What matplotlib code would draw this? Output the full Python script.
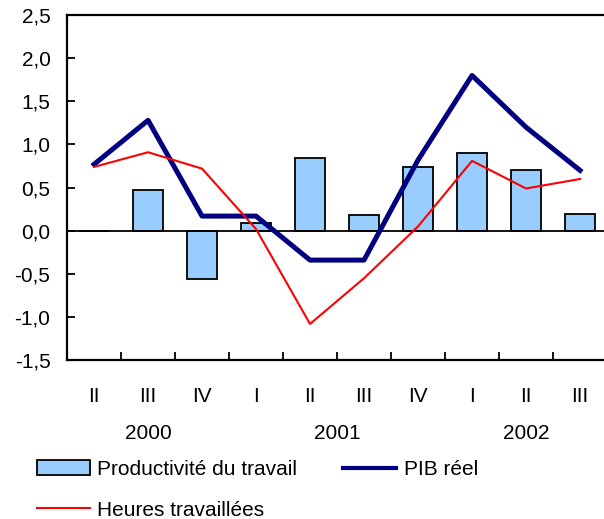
import numpy as np
import matplotlib.pyplot as plt
from matplotlib.patches import Patch
from matplotlib.lines import Line2D

plt.rcParams['font.family'] = ['Liberation Sans', 'DejaVu Sans']
plt.rcParams['font.size'] = 15

# Trimestres 2000 T2 - 2002 T3
quarters = ['II', 'III', 'IV', 'I', 'II', 'III', 'IV', 'I', 'II', 'III']
years = ['2000', '2001', '2002']
year_pos = [1, 4.5, 8]

productivite = [0.0, 0.47, -0.56, 0.09, 0.84, 0.18, 0.74, 0.90, 0.70, 0.20]
pib = [0.77, 1.28, 0.17, 0.17, -0.34, -0.34, 0.82, 1.80, 1.20, 0.70]
heures = [0.74, 0.91, 0.72, 0.02, -1.08, -0.55, 0.05, 0.81, 0.49, 0.60]

fig = plt.figure(figsize=(6.04, 5.19), dpi=100)
ax = fig.add_axes([0.111, 0.306, 0.894, 0.665])

x = np.arange(len(quarters))
ax.bar(x, productivite, width=0.55, color='#99CCFF', edgecolor='black', linewidth=1.3, zorder=2)
ax.axhline(0, color='black', linewidth=1.3, zorder=3)
ax.plot(x, pib, color='#000080', linewidth=3.6, zorder=4)
ax.plot(x, heures, color='#FF0000', linewidth=1.5, zorder=5)

ax.set_xlim(-0.5, len(quarters) - 0.5)
ax.set_ylim(-1.5, 2.5)
ax.set_yticks(np.arange(-1.5, 2.51, 0.5))
ax.set_yticklabels([f'{v:.1f}'.replace('.', ',') for v in np.arange(-1.5, 2.51, 0.5)])

ax.set_xticks(x)
ax.set_xticklabels(quarters)
ax.set_xticks(np.arange(0.5, len(quarters) - 0.5, 1), minor=True)
ax.tick_params(axis='x', which='major', length=0, pad=19)
ax.tick_params(axis='x', which='minor', direction='in', length=6, width=1.3)
ax.tick_params(axis='y', direction='in', length=6, width=1.3, pad=12)

for s in ax.spines.values():
    s.set_linewidth(1.6)

for yr, p in zip(years, year_pos):
    ax.text(p, -0.212, yr, transform=ax.get_xaxis_transform(), ha='center', va='center')

handles = [
    Patch(facecolor='#99CCFF', edgecolor='black', linewidth=1.3),
    Line2D([], [], color='#FF0000', linewidth=1.5),
    Line2D([], [], color='#000080', linewidth=3.0),
]
labels = ['Productivité du travail', 'Heures travaillées', 'PIB réel']
fig.legend(handles, labels, loc='upper left', bbox_to_anchor=(0.061, 0.114), ncol=2,
           frameon=False, borderpad=0, handlelength=2.55, handletextpad=0.35,
           columnspacing=2.2, labelspacing=1.05, borderaxespad=0)

fig.savefig('out.png', dpi=100)
